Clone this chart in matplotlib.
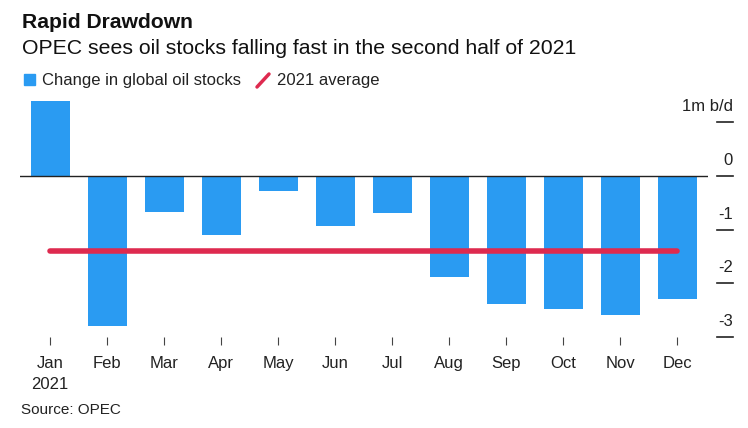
import matplotlib.pyplot as plt
import matplotlib.transforms as mtransforms
from matplotlib.lines import Line2D

plt.rcParams["font.family"] = ["Liberation Sans", "DejaVu Sans"]

months = ["Jan", "Feb", "Mar", "Apr", "May", "Jun",
          "Jul", "Aug", "Sep", "Oct", "Nov", "Dec"]
stock_change = [1.40, -2.79, -0.68, -1.10, -0.29, -0.93,
                -0.69, -1.88, -2.38, -2.48, -2.59, -2.30]
avg_2021 = -1.39
y_ticks = [1, 0, -1, -2, -3]
y_labels = ["1m b/d", "0", "-1", "-2", "-3"]

blue = "#2A9BF2"
red = "#DE2A4F"

fig = plt.figure(figsize=(7.48, 4.28), dpi=100)
ax = fig.add_axes([0.0267, 0.2126, 0.9198, 0.5584])

x = list(range(len(months)))
ax.bar(x, stock_change, width=0.68, color=blue, zorder=2)
ax.axhline(0, color="#222222", lw=1, zorder=3)
ax.plot([x[0], x[-1]], [avg_2021, avg_2021], color=red, lw=4,
        solid_capstyle="round", zorder=4)

ax.set_xlim(-0.53, 11.54)
ax.set_ylim(-3.0, 1.45)
for s in ax.spines.values():
    s.set_visible(False)
ax.set_yticks([])
ax.set_xticks(x)
ax.set_xticklabels([m if m != "Jan" else "Jan\n2021" for m in months],
                   fontsize=12, color="#222222", va="top", linespacing=1.45)
ax.tick_params(axis="x", length=6, width=0.8, color="#444444", pad=8)
ax.xaxis.set_ticks_position("bottom")

# right-hand value labels with short dashes beneath
tr = mtransforms.blended_transform_factory(fig.transFigure, ax.transData)
for v, lab in zip(y_ticks, y_labels):
    ax.add_line(Line2D([717 / 748, 733 / 748], [v, v], transform=tr,
                       color="#222222", lw=1.2, clip_on=False))
    ax.text(733 / 748, v + 0.15, lab, transform=tr, ha="right", va="bottom",
            fontsize=12, color="#222222", clip_on=False)

fig.text(22 / 748, 1 - 22 / 428, "Rapid Drawdown", fontsize=15.2,
         fontweight="bold", color="#111111", va="center")
fig.text(22 / 748, 1 - 49 / 428,
         "OPEC sees oil stocks falling fast in the second half of 2021",
         fontsize=15.3, color="#111111", va="center")

# legend
fig.patches.append(plt.Rectangle((24 / 748, 1 - 85 / 428), 11 / 748, 11 / 428,
                                 transform=fig.transFigure, color=blue))
fig.text(42 / 748, 1 - 80 / 428, "Change in global oil stocks", fontsize=12,
         color="#222222", va="center")
fig.add_artist(Line2D([257 / 748, 269 / 748], [1 - 87 / 428, 1 - 74 / 428],
                      transform=fig.transFigure, color=red, lw=2.5,
                      solid_capstyle="round"))
fig.text(277 / 748, 1 - 80 / 428, "2021 average", fontsize=12,
         color="#222222", va="center")

fig.text(21 / 748, 1 - 410 / 428, "Source: OPEC", fontsize=11,
         color="#222222", va="center")

fig.savefig("out.png", dpi=100, facecolor="white")
